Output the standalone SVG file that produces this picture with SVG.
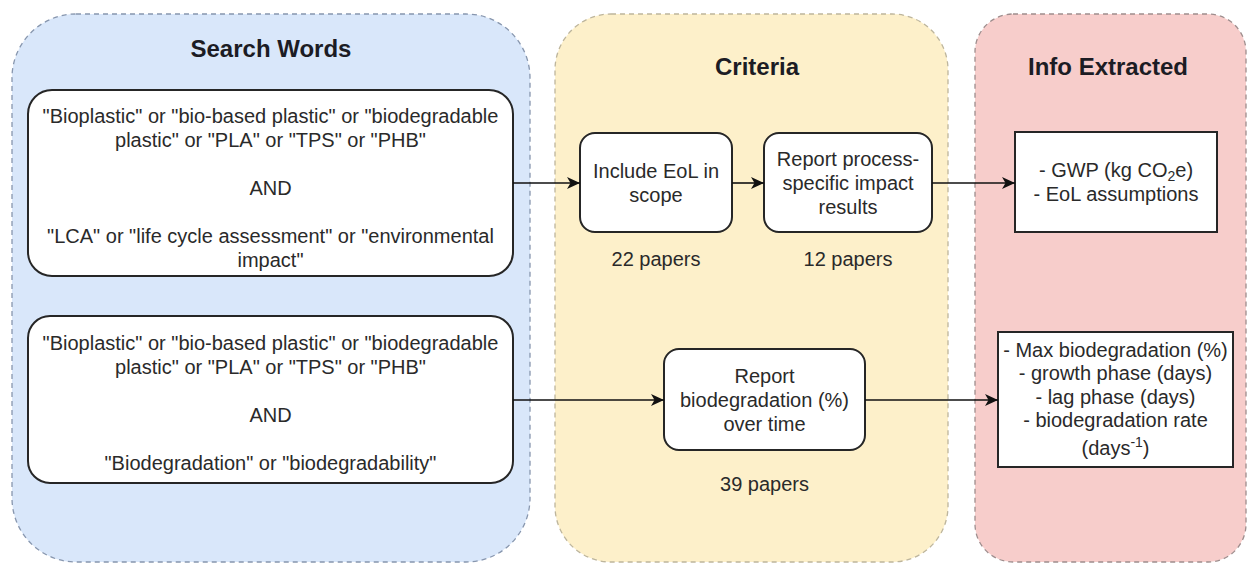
<svg xmlns="http://www.w3.org/2000/svg" width="1248" height="564" viewBox="0 0 1248 564">
<defs>
<style>
.t{font-family:"Liberation Sans",Arial,sans-serif;font-size:20px;fill:#2a2a2a;text-anchor:middle}
.h{font-family:"Liberation Sans",Arial,sans-serif;font-size:24px;font-weight:bold;fill:#1c1c24;text-anchor:middle}
.box{fill:#ffffff;stroke:#262626;stroke-width:2}
.cont{stroke-width:1.3;stroke-dasharray:5 4}
.edge{fill:none;stroke:#111;stroke-width:1.6}
</style>
<marker id="arr" markerWidth="14" markerHeight="12" refX="13" refY="6" orient="auto" markerUnits="userSpaceOnUse">
<path d="M0,0 L13,6 L0,12 L3.5,6 z" fill="#111"/>
</marker>
</defs>
<rect width="1248" height="564" fill="#ffffff"/>

<g id="search-words">
<rect class="cont" x="12" y="14" width="518" height="548" rx="64" fill="#d9e7fa" stroke="#8796ae"/>
<text class="h" x="271" y="57">Search Words</text>
</g>
<g id="criteria">
<rect class="cont" x="555" y="14" width="393" height="548" rx="56" fill="#fdf0ca" stroke="#bdb59c"/>
<text class="h" x="757" y="75">Criteria</text>
</g>
<g id="info-extracted">
<rect class="cont" x="975" y="14" width="271" height="548" rx="38" fill="#f7cdcb" stroke="#9e8d8d"/>
<text class="h" x="1108" y="75">Info Extracted</text>
</g>

<g id="search-lca">
<rect class="box" x="28" y="90" width="485" height="186" rx="24"/>
<text class="t" x="270.5" y="123">"Bioplastic" or "bio-based plastic" or "biodegradable</text>
<text class="t" x="270.5" y="147">plastic" or "PLA" or "TPS" or "PHB"</text>
<text class="t" x="270.5" y="195">AND</text>
<text class="t" x="270.5" y="243">"LCA" or "life cycle assessment" or "environmental</text>
<text class="t" x="270.5" y="267">impact"</text>
</g>
<g id="search-biodeg">
<rect class="box" x="28" y="316" width="485" height="167" rx="22"/>
<text class="t" x="270.5" y="350">"Bioplastic" or "bio-based plastic" or "biodegradable</text>
<text class="t" x="270.5" y="374">plastic" or "PLA" or "TPS" or "PHB"</text>
<text class="t" x="270.5" y="422">AND</text>
<text class="t" x="270.5" y="470">"Biodegradation" or "biodegradability"</text>
</g>

<g id="include-eol">
<rect class="box" x="580" y="133" width="152" height="99" rx="15"/>
<text class="t" x="656" y="178">Include EoL in</text>
<text class="t" x="656" y="202">scope</text>
<text class="t" x="656" y="266">22 papers</text>
</g>
<g id="report-process">
<rect class="box" x="764" y="133" width="168" height="99" rx="15"/>
<text class="t" x="848" y="166">Report process-</text>
<text class="t" x="848" y="190">specific impact</text>
<text class="t" x="848" y="214">results</text>
<text class="t" x="848" y="266">12 papers</text>
</g>
<g id="report-biodeg">
<rect class="box" x="664" y="349" width="201" height="101" rx="15"/>
<text class="t" x="764.5" y="383">Report</text>
<text class="t" x="764.5" y="407">biodegradation (%)</text>
<text class="t" x="764.5" y="431">over time</text>
<text class="t" x="764.5" y="491">39 papers</text>
</g>

<g id="info-gwp">
<rect class="box" x="1015" y="132" width="202" height="100" rx="0"/>
<text class="t" x="1116" y="177">- GWP (kg CO<tspan font-size="14" dy="4">2</tspan><tspan dy="-4">e)</tspan></text>
<text class="t" x="1116" y="201">- EoL assumptions</text>
</g>
<g id="info-biodeg">
<rect class="box" x="998" y="332" width="235" height="135" rx="0"/>
<text class="t" x="1115.5" y="357">- Max biodegradation (%)</text>
<text class="t" x="1115.5" y="380">- growth phase (days)</text>
<text class="t" x="1115.5" y="404">- lag phase (days)</text>
<text class="t" x="1115.5" y="427">- biodegradation rate</text>
<text class="t" x="1115.5" y="455">(days<tspan font-size="14" dy="-8">-1</tspan><tspan dy="8">)</tspan></text>
</g>

<g id="connectors">
<path class="edge" d="M513,183 L580,183" marker-end="url(#arr)"/>
<path class="edge" d="M732,183 L764,183" marker-end="url(#arr)"/>
<path class="edge" d="M932,183 L1015,183" marker-end="url(#arr)"/>
<path class="edge" d="M513,400 L664,400" marker-end="url(#arr)"/>
<path class="edge" d="M865,400 L998,400" marker-end="url(#arr)"/>
</g>
</svg>
